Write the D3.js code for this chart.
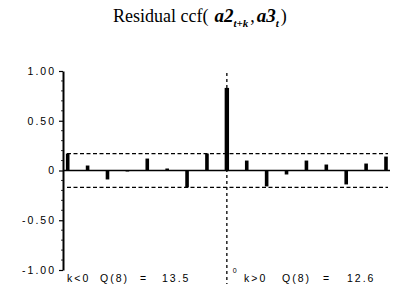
<!DOCTYPE html>
<html>
<head>
<meta charset="utf-8">
<script src="https://cdnjs.cloudflare.com/ajax/libs/d3/7.8.5/d3.min.js"></script>
<style>
  body { margin: 0; background: #fff; }
  svg { display: block; }
  .tick text, .lbl { font-family: "Liberation Sans", Arial, sans-serif; font-size: 10.5px; letter-spacing: 2px; fill: #000; }
</style>
</head>
<body>
<svg width="395" height="294"></svg>
<script>
var svg = d3.select("svg"),
    width = +svg.attr("width"),
    height = +svg.attr("height");

// lags and residual cross-correlations
var lags = [-8, -7, -6, -5, -4, -3, -2, -1, 0, 1, 2, 3, 4, 5, 6, 7, 8];
var ccf = [0.17, 0.05, -0.09, -0.01, 0.12, 0.02, -0.17, 0.17, 0.83,
           0.10, -0.16, -0.04, 0.10, 0.06, -0.14, 0.07, 0.14];
var bound = 0.17;
var yTicks = [-1, -0.5, 0, 0.5, 1];
var yTickLabels = ["-1.00", "-0.50", "0", "0.50", "1.00"];
var qNeg = "13.5", qPos = "12.6";

var x = d3.scaleLinear().domain([-8, 8]).range([67.7, 386]);
var y = d3.scaleLinear().domain([-1, 1]).range([270, 71]);

// title
var title = svg.append("text")
    .attr("x", 113).attr("y", 22)
    .style("font-family", "'Liberation Serif', 'Times New Roman', serif")
    .style("font-size", "18px");
title.append("tspan").text("Residual ccf(");
title.append("tspan").attr("dx", 6).style("font-style", "italic").style("font-weight", "bold").style("font-size", "19px").text("a2");
title.append("tspan").attr("dy", 5).style("font-style", "italic").style("font-weight", "bold").style("font-size", "11px").text("t+k");
title.append("tspan").attr("dy", -5).attr("dx", 2).text(",");
title.append("tspan").attr("dx", 2).style("font-style", "italic").style("font-weight", "bold").style("font-size", "19px").text("a3");
title.append("tspan").attr("dy", 5).style("font-style", "italic").style("font-weight", "bold").style("font-size", "11px").text("t");
title.append("tspan").attr("dy", -5).attr("dx", 2).text(")");

// y axis
var yAxis = d3.axisLeft(y)
    .tickValues(yTicks)
    .tickFormat(function(d, i) { return yTickLabels[i]; })
    .tickSize(4)
    .tickSizeOuter(0)
    .tickPadding(3);

var gy = svg.append("g")
    .attr("transform", "translate(63,0)")
    .call(yAxis);
gy.select(".domain").attr("stroke-width", 2);
gy.selectAll(".tick line").attr("stroke-width", 1.2);

// minor ticks
svg.append("g").selectAll("line")
    .data(d3.range(-0.9, 1.0, 0.1).filter(function(d) { return Math.abs(Math.round(d * 10) % 5) !== 0; }))
  .enter().append("line")
    .attr("x1", 61).attr("x2", 63)
    .attr("y1", function(d) { return y(d); })
    .attr("y2", function(d) { return y(d); })
    .attr("stroke", "#000").attr("stroke-width", 0.8);

// zero line
svg.append("line")
    .attr("x1", 63).attr("x2", 390)
    .attr("y1", y(0)).attr("y2", y(0))
    .attr("stroke", "#000").attr("stroke-width", 1.6);

// confidence bounds
svg.selectAll(".bound")
    .data([bound, -bound])
  .enter().append("line")
    .attr("class", "bound")
    .attr("x1", 67).attr("x2", 388)
    .attr("y1", function(d) { return y(d); })
    .attr("y2", function(d) { return y(d); })
    .attr("stroke", "#000").attr("stroke-width", 1.2)
    .attr("stroke-dasharray", "4,2.5");

// lag 0 divider
svg.append("line")
    .attr("x1", x(0)).attr("x2", x(0))
    .attr("y1", 73).attr("y2", 284)
    .attr("stroke", "#000").attr("stroke-width", 1.3)
    .attr("stroke-dasharray", "3,3");

// bars
svg.selectAll(".bar")
    .data(lags)
  .enter().append("rect")
    .attr("class", "bar")
    .attr("x", function(d) { return x(d) - (d === 0 ? 2.2 : 1.8); })
    .attr("width", function(d) { return d === 0 ? 4.4 : 3.6; })
    .attr("y", function(d, i) { return Math.min(y(ccf[i]), y(0)); })
    .attr("height", function(d, i) { return Math.abs(y(ccf[i]) - y(0)); })
    .attr("fill", "#000");

// bottom annotations
function lbl(xp, txt) {
  svg.append("text").attr("class", "lbl").attr("x", xp).attr("y", 282).text(txt);
}
lbl(67, "k<0"); lbl(100, "Q(8)"); lbl(140, "="); lbl(162, qNeg);
lbl(244, "k>0"); lbl(282, "Q(8)"); lbl(323, "="); lbl(347, qPos);
svg.append("text").attr("class", "lbl").attr("x", x(0) + 6).attr("y", 273)
    .style("font-size", "7px").style("letter-spacing", "0px").text("0");
</script>
</body>
</html>
